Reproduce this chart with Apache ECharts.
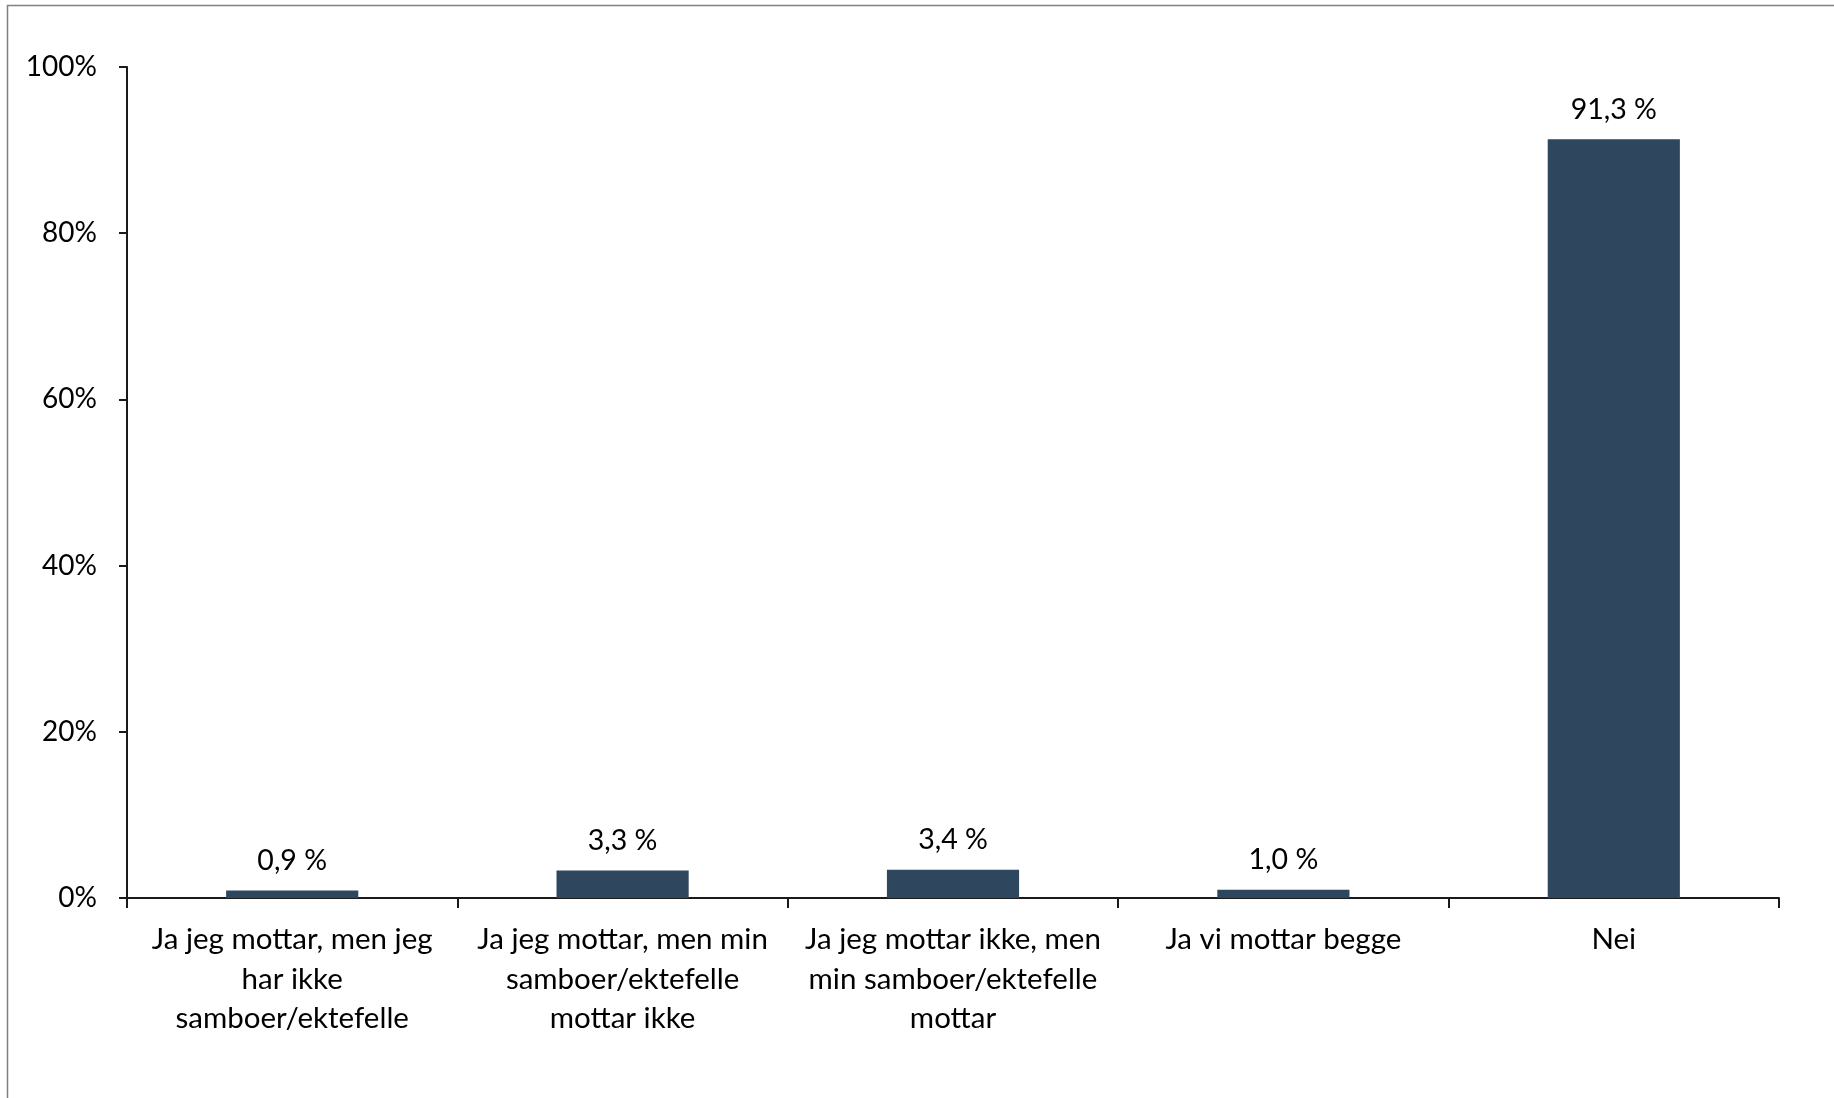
<!DOCTYPE html>
<html>
<head>
<meta charset="utf-8">
<script src="https://cdn.jsdelivr.net/npm/echarts@6/dist/echarts.min.js"></script>
<style>
html,body{margin:0;padding:0;background:#fff;}
#chart{width:1834px;height:1098px;}
</style>
</head>
<body>
<div id="chart"></div>
<script>
const categories = [
  "Ja jeg mottar, men jeg\nhar ikke\nsamboer/ektefelle",
  "Ja jeg mottar, men min\nsamboer/ektefelle\nmottar ikke",
  "Ja jeg mottar ikke, men\nmin samboer/ektefelle\nmottar",
  "Ja vi mottar begge",
  "Nei"
];
const values = [0.9, 3.3, 3.4, 1.0, 91.3];
const yTicks = [0, 20, 40, 60, 80, 100];

const FONT = "Lato";
const chart = echarts.init(document.getElementById('chart'), null, {renderer: 'canvas'});
chart.setOption({
  animation: false,
  backgroundColor: '#ffffff',
  graphic: [{
    type: 'rect',
    shape: {x: 7.5, y: 5.5, width: 2000, height: 1200},
    style: {fill: 'none', stroke: '#808080', lineWidth: 1.5},
    silent: true
  }],
  grid: {left: 127, top: 67, right: 55, bottom: 200, containLabel: false},
  xAxis: {
    type: 'category',
    data: categories,
    boundaryGap: true,
    axisLine: {show: true, lineStyle: {color: '#1a1a1a', width: 2}},
    axisTick: {show: true, alignWithLabel: false, length: 10, lineStyle: {color: '#1a1a1a', width: 2}},
    axisLabel: {
      interval: 0,
      margin: 22,
      color: '#000',
      fontFamily: FONT,
      fontSize: 29.5,
      lineHeight: 39.5,
      align: 'center'
    }
  },
  yAxis: {
    type: 'value',
    min: 0,
    max: 100,
    interval: 20,
    splitLine: {show: false},
    axisLine: {show: true, lineStyle: {color: '#1a1a1a', width: 2}},
    axisTick: {show: true, inside: false, length: 8, lineStyle: {color: '#1a1a1a', width: 2}},
    axisLabel: {
      margin: 30,
      color: '#000',
      fontFamily: FONT,
      fontSize: 28,
      formatter: function (v) { return yTicks.indexOf(v) >= 0 ? v + '%' : ''; }
    }
  },
  series: [{
    type: 'bar',
    data: values,
    barWidth: '40%',
    itemStyle: {color: '#2E465E'},
    label: {
      show: true,
      position: 'top',
      distance: 15,
      color: '#000',
      fontFamily: FONT,
      fontSize: 28.5,
      formatter: function (p) { return p.value.toFixed(1).replace('.', ',') + ' %'; }
    }
  }]
});
</script>
</body>
</html>
